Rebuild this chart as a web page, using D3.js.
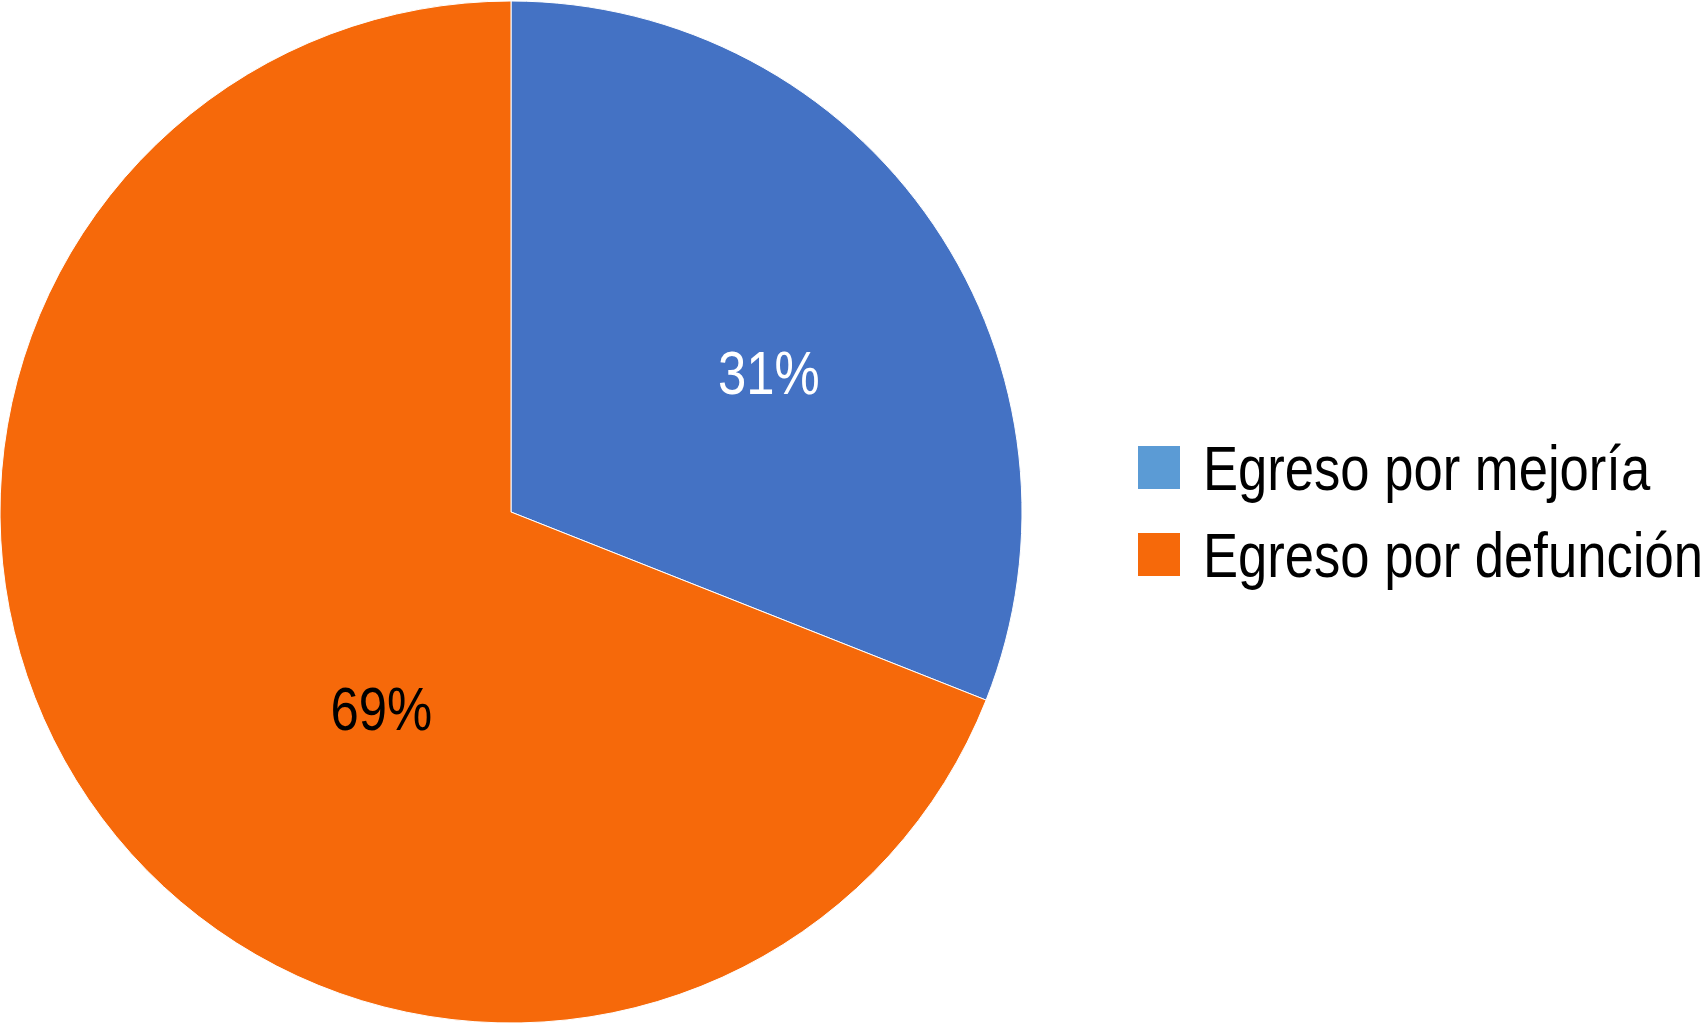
<!DOCTYPE html>
<html>
<head>
<meta charset="utf-8">
<script src="https://cdn.jsdelivr.net/npm/d3@7"></script>
<style>
  html, body { margin: 0; padding: 0; background: #ffffff; }
  svg { display: block; }
  text { font-family: "Liberation Sans", Arial, Helvetica, sans-serif; }
</style>
</head>
<body>
<svg id="chart" width="1706" height="1024"></svg>
<script>
// ---- data ----
const categories = ["Egreso por mejoría", "Egreso por defunción"];
const values = [31, 69];
const labels = ["31%", "69%"];

// ---- styles ----
const sliceColors = ["#4472C4", "#F6690A"];
const legendColors = ["#5B9BD5", "#F6690A"];
const labelColors = ["#ffffff", "#000000"];
// label placement within each slice (fraction of slice angle, fraction of radius)
const labelAngleFrac = [0.55, 0.41];
const labelRadiusFrac = [0.575, 0.46];
const condenseLabel = 0.82;  // horizontal compression of the narrow typeface
const condenseLegend = 0.835;

const svg = d3.select("#chart");
const cx = 511, cy = 512, R = 511;

const pie = d3.pie().sort(null).value(d => d)(values);
const arc = d3.arc().innerRadius(0).outerRadius(R);

const g = svg.append("g").attr("transform", `translate(${cx},${cy})`);
g.selectAll("path.slice")
  .data(pie)
  .join("path")
  .attr("class", "slice")
  .attr("d", arc)
  .attr("fill", (d, i) => sliceColors[i])
  .attr("stroke", "#ffffff")
  .attr("stroke-width", 1);

const lblPos = pie.map((d, i) => {
  const a = d.startAngle + (d.endAngle - d.startAngle) * labelAngleFrac[i];
  return [Math.sin(a) * R * labelRadiusFrac[i], -Math.cos(a) * R * labelRadiusFrac[i]];
});

g.selectAll("g.lbl")
  .data(pie)
  .join("g")
  .attr("class", "lbl")
  .attr("transform", (d, i) => `translate(${lblPos[i][0]},${lblPos[i][1]}) scale(${condenseLabel},1)`)
  .append("text")
  .attr("dy", "0.36em")
  .attr("text-anchor", "middle")
  .attr("font-size", 62)
  .attr("fill", (d, i) => labelColors[i])
  .text((d, i) => labels[i]);

// ---- legend ----
const legend = svg.append("g").attr("transform", "translate(1138,446)");
const rowH = 87;
const items = legend.selectAll("g.item")
  .data(categories)
  .join("g")
  .attr("class", "item")
  .attr("transform", (d, i) => `translate(0,${i * rowH})`);
items.append("rect")
  .attr("width", 42).attr("height", 43)
  .attr("fill", (d, i) => legendColors[i]);
items.append("g")
  .attr("transform", `translate(65,21) scale(${condenseLegend},1)`)
  .append("text")
  .attr("dy", "0.36em")
  .attr("font-size", 63)
  .attr("fill", "#000000")
  .text(d => d);
</script>
</body>
</html>
